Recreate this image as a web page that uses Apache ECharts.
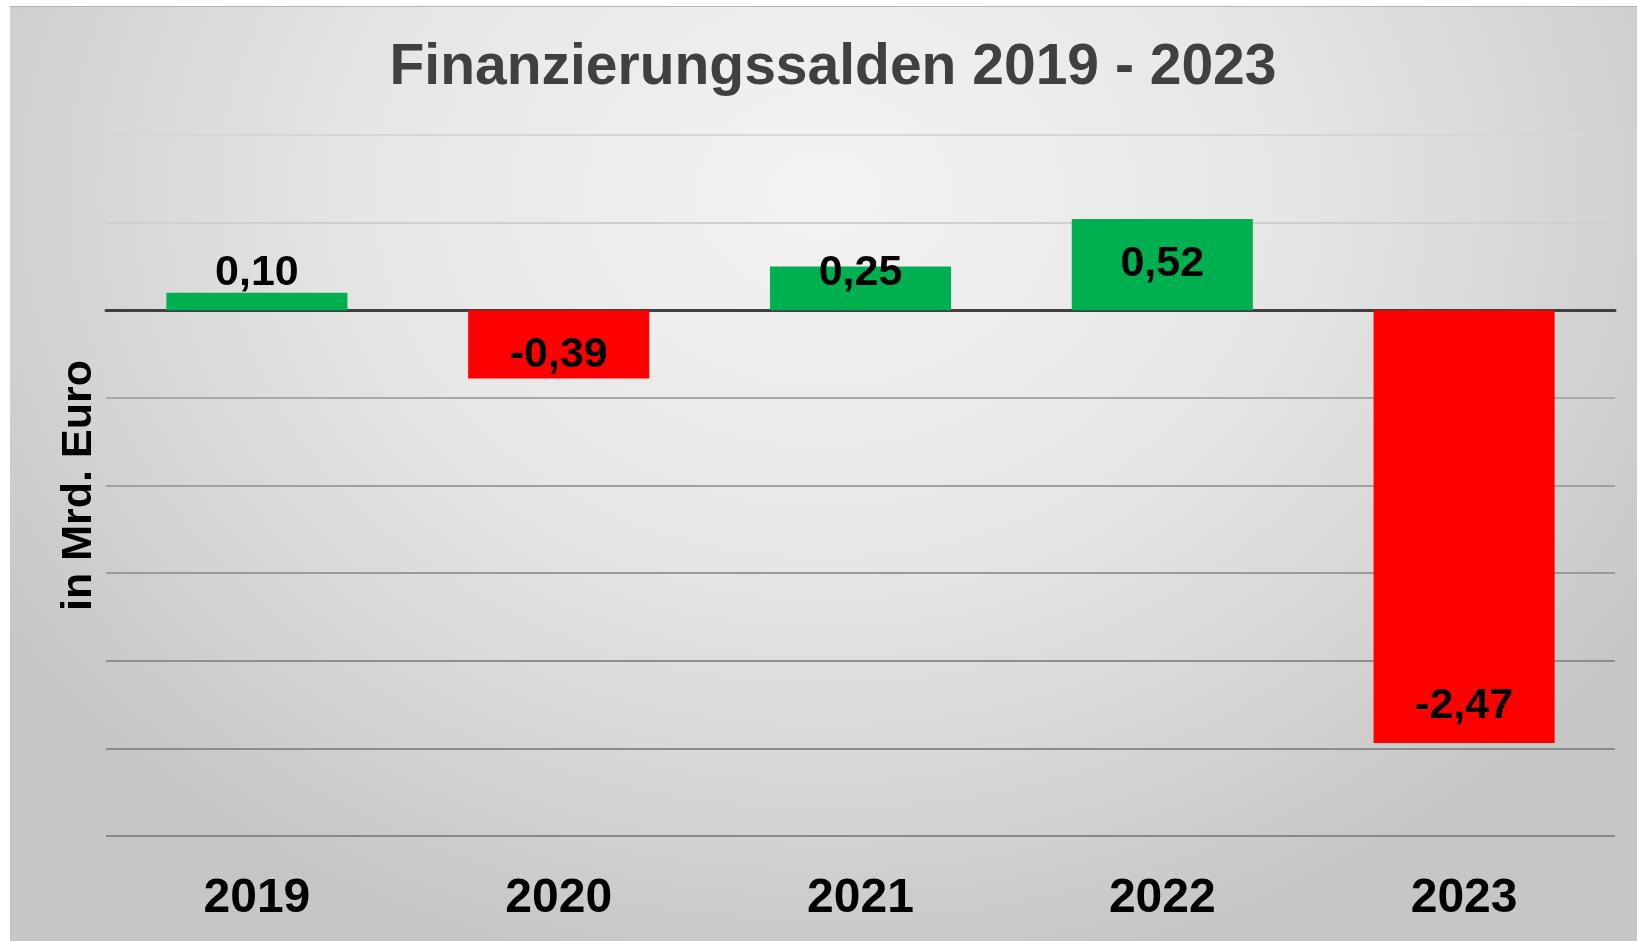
<!DOCTYPE html>
<html>
<head>
<meta charset="utf-8">
<script src="https://cdn.jsdelivr.net/npm/echarts@6/dist/echarts.min.js"></script>
<style>
    html, body { margin: 0; padding: 0; background: #ffffff; }
    #frame {
        position: absolute; left: 10px; top: 6px; right: 0; bottom: 0;
        border-top: 1px solid #b4b4b4;
        background: radial-gradient(ellipse 60% 85% at 50% 20%, #f3f3f3 0%, #e7e7e7 45%, #d6d6d6 75%, #c6c6c6 100%);
    }
    #chart { position: absolute; left: 0; top: 0; width: 1637px; height: 941px; }
</style>
</head>
<body>
<div id="frame"></div>
<div id="chart"></div>
<script>
// Finanzierungssalden in Mrd. Euro
const years = ['2019', '2020', '2021', '2022', '2023'];
const saldo = [0.10, -0.39, 0.25, 0.52, -2.47];

// y axis range (no tick labels shown in the original)
const yMin = -3;
const yMax = 1;
const yStep = 0.5;

// label tweaks, pixels from the bar centre
const labelShift = [-28, 11, -15, -1, 179];
// gridline colours, bottom to top
const gridColors = ['#888888', '#8c8c8c', '#8f8f8f', '#9a9a9a', '#a0a0a0', '#a8a8a8', '#404040', '#cfcfcf', '#d6d6d6'];

const font = '"Liberation Sans", Arial, sans-serif';

const barData = saldo.map(function (v, i) {
    return {
        value: v,
        itemStyle: { color: v >= 0 ? '#00b050' : '#ff0000' },
        label: { offset: [0, labelShift[i]] }
    };
});

const myChart = echarts.init(document.getElementById('chart'), null, { renderer: 'canvas' });

const option = {
    backgroundColor: 'transparent',
    animation: false,
    title: {
        text: 'Finanzierungssalden 2019 - 2023',
        left: 828,
        top: 35,
        textAlign: 'center',
        textStyle: { fontFamily: font, fontSize: 57, fontWeight: 'bold', color: '#404040' }
    },
    grid: { left: 106, right: 22, top: 135, bottom: 105 },
    xAxis: {
        type: 'category',
        data: years,
        axisLine: { onZero: true, lineStyle: { color: '#404040', width: 3 } },
        axisTick: { show: false },
        axisLabel: {
            margin: 39,
            fontFamily: font, fontSize: 48, fontWeight: 'bold', color: '#000000'
        }
    },
    yAxis: {
        type: 'value',
        min: yMin,
        max: yMax,
        interval: yStep,
        name: 'in Mrd. Euro',
        nameLocation: 'middle',
        nameGap: 5,
        nameTextStyle: { fontFamily: font, fontSize: 43, fontWeight: 'bold', color: '#000000' },
        axisLine: { show: false },
        axisTick: { show: false },
        axisLabel: { show: false },
        splitLine: { lineStyle: { color: gridColors, width: 2 } }
    },
    series: [{
        type: 'bar',
        data: barData,
        barWidth: '60%',
        label: {
            show: true,
            position: 'inside',
            formatter: function (p) { return p.value.toFixed(2).replace('.', ','); },
            fontFamily: font, fontSize: 43, fontWeight: 'bold', color: '#000000'
        }
    }]
};

myChart.setOption(option);
</script>
</body>
</html>
